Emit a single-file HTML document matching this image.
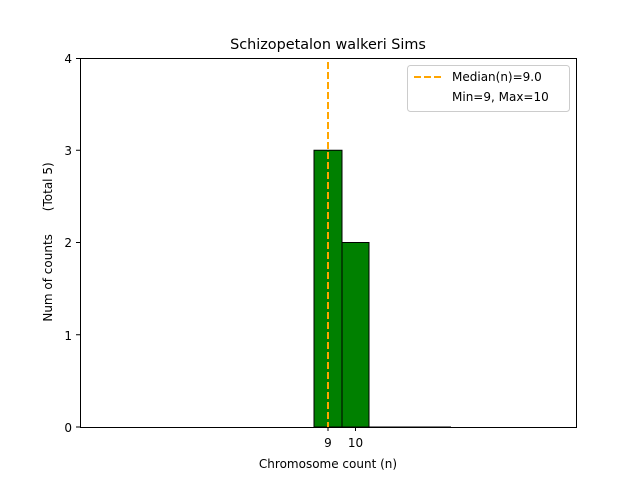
<!DOCTYPE html>
<html><head><style>body{margin:0;background:#fff}svg{display:block}text{font-family:"DejaVu Sans","Liberation Sans",sans-serif;fill:#000}</style></head>
<body>
<svg width="640" height="480" xmlns="http://www.w3.org/2000/svg">
<rect width="640" height="480" fill="#fff"/>
<text x="328" y="49" font-size="14.4" text-anchor="middle">Schizopetalon walkeri Sims</text>
<rect x="314" y="150.25" width="28" height="276.75" fill="#008000" stroke="#000" stroke-width="1"/>
<rect x="342" y="242.5" width="27" height="184.5" fill="#008000" stroke="#000" stroke-width="1"/>
<line x1="369" y1="427" x2="451" y2="427" stroke="#000" stroke-width="1"/>
<line x1="328" y1="62" x2="328" y2="427" stroke="#ffa500" stroke-width="2" stroke-dasharray="7,3"/>
<rect x="80.5" y="58.5" width="496" height="369" fill="none" stroke="#000" stroke-width="1"/>
<g stroke="#000" stroke-width="1">
<line x1="76" y1="427" x2="80" y2="427"/><line x1="76" y1="334.75" x2="80" y2="334.75"/><line x1="76" y1="242.5" x2="80" y2="242.5"/><line x1="76" y1="150.25" x2="80" y2="150.25"/><line x1="76" y1="58.5" x2="80" y2="58.5"/>
<line x1="328" y1="427" x2="328" y2="431"/><line x1="355.5" y1="427" x2="355.5" y2="431"/>
</g>
<g font-size="12" text-anchor="end">
<text x="72" y="432">0</text><text x="72" y="340">1</text><text x="72" y="247">2</text><text x="72" y="155">3</text><text x="72" y="63">4</text>
</g>
<g font-size="12" text-anchor="middle">
<text x="328" y="447">9</text><text x="355.5" y="447">10</text>
<text x="328" y="468">Chromosome count (n)</text>
</g>
<text transform="translate(52,242) rotate(-90)" font-size="12" text-anchor="middle" xml:space="preserve" style="white-space:pre">Num of counts      (Total 5)</text>
<rect x="407.5" y="65.5" width="162" height="46" rx="3" fill="#fff" stroke="#ccc"/>
<line x1="414" y1="77" x2="442" y2="77" stroke="#ffa500" stroke-width="2" stroke-dasharray="7,3"/>
<text x="452" y="81" font-size="12">Median(n)=9.0</text>
<text x="452" y="101" font-size="12">Min=9, Max=10</text>
</svg>
</body></html>
